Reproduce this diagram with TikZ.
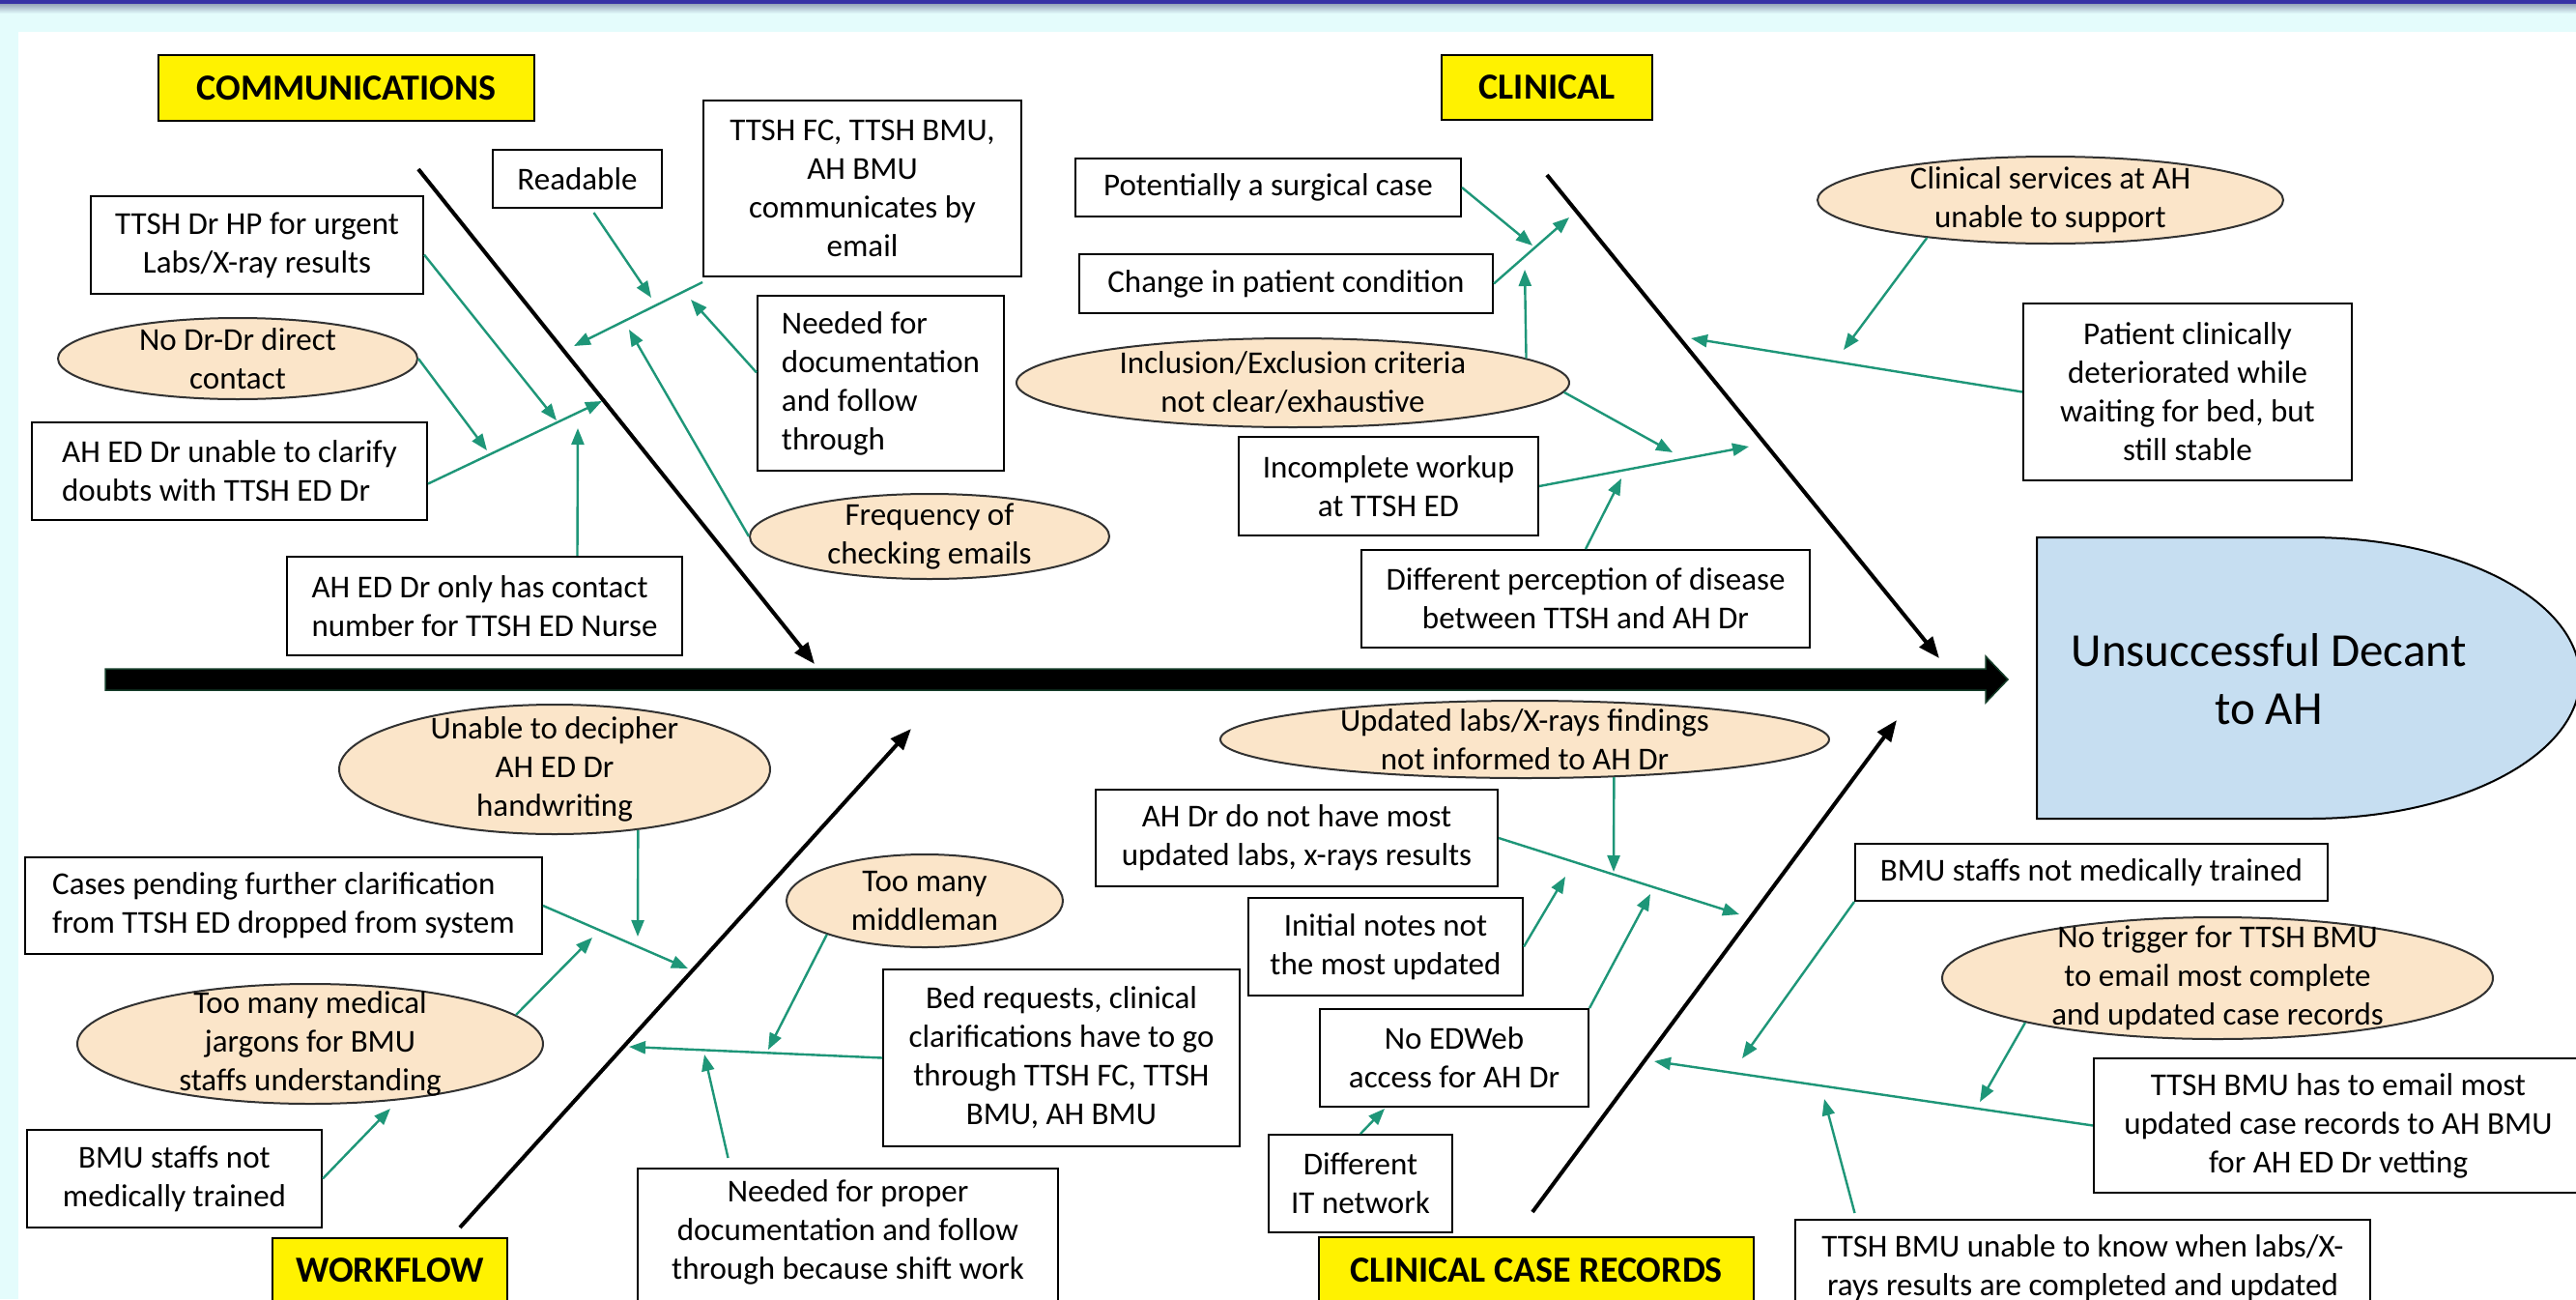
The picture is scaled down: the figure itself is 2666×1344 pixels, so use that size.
\documentclass[tikz,border=0pt]{standalone}
\usepackage{fontspec}
\setmainfont{Carlito}
\usetikzlibrary{arrows.meta,shapes.geometric}
\definecolor{grn}{RGB}{30,150,120}
\definecolor{peach}{RGB}{251,229,201}
\definecolor{ovalline}{RGB}{50,50,50}
\definecolor{outblue}{RGB}{198,222,241}
\definecolor{cyanbg}{RGB}{228,252,252}
\definecolor{topblue}{RGB}{55,50,165}
\definecolor{topgray}{RGB}{150,165,185}
\definecolor{spinegreen}{RGB}{20,60,40}
\newcommand{\myfs}{\fontsize{33pt}{40pt}\selectfont}
\newcommand{\myfb}{\fontsize{38pt}{44pt}\selectfont\bfseries}
\newcommand{\myfo}{\fontsize{49pt}{60pt}\selectfont}
\begin{document}
\begin{tikzpicture}[x=1pt,y=-1pt,
 box/.style={draw=black,line width=2pt,fill=white,inner sep=4pt,font=\myfs,align=center},
 lbox/.style={box,align=left},
 lbl/.style={draw=black,line width=2pt,fill=yellow,inner sep=4pt,font=\myfb},
 oval/.style={ellipse,draw=ovalline,line width=2pt,fill=peach,inner sep=0pt},
 txt/.style={font=\myfs,align=center,inner sep=0pt},
 garrow/.style={draw=grn,line width=2.4pt,-{Triangle[length=17pt,width=13pt]}},
 bone/.style={draw=black,line width=4pt,-{Triangle[length=22pt,width=17pt]}}]
\useasboundingbox (0,0) rectangle (2666,1344);
% background
\fill[cyanbg] (0,0) rectangle (2666,1344);
\fill[white] (19,33) rectangle (2666,1344);
\fill[topblue] (0,0) rectangle (2666,4);
\shade[top color=topgray,bottom color=cyanbg] (0,4) rectangle (2666,14);
% spine
\fill[black,draw=spinegreen,line width=1.5pt] (109,692) -- (2055,692) -- (2055,679) -- (2078,703) -- (2055,727) -- (2055,714) -- (109,714) -- cycle;
% bones
\coordinate (cbA) at (433,175); \coordinate (cbB) at (843,687);
\coordinate (clA) at (1601,181); \coordinate (clB) at (2007,681);
\coordinate (wbA) at (476,1270); \coordinate (wbB) at (943,754);
\coordinate (rbA) at (1586,1254); \coordinate (rbB) at (1963,745);
\draw[bone] (cbA) -- (cbB);
\draw[bone] (clA) -- (clB);
\draw[bone] (wbA) -- (wbB);
\draw[bone] (rbA) -- (rbB);
% outcome
\filldraw[fill=outblue,draw=black,line width=2pt] (2108,556) -- (2390,556) arc[start angle=90,end angle=-90,x radius=280pt,y radius=145.5pt] -- (2108,847) -- cycle;
\node[font=\myfo,align=center,inner sep=0pt] (outtxt) at (2348,703) {Unsuccessful Decant\\to AH};
% ---------- COMMUNICATIONS
\node[lbl,minimum width=389pt,minimum height=68pt] (comm) at (358.5,91) {COMMUNICATIONS};
\node[box,minimum width=175pt,minimum height=60pt] (readable) at (597.5,185) {Readable};
\node[box,minimum width=329pt,minimum height=182pt] (fc) at (892.5,195) {TTSH FC, TTSH BMU,\\AH BMU\\communicates by\\email};
\node[box,minimum width=344pt,minimum height=101pt] (hp) at (266,253.5) {TTSH Dr HP for urgent\\Labs/X-ray results};
\node[oval,minimum width=372pt,minimum height=84pt] (nodr) at (246,371) {};
\node[txt] at (nodr) {No Dr-Dr direct\\contact};
\node[lbox,minimum width=409pt,minimum height=101pt] (clar) at (237.5,487.5) {AH ED Dr unable to clarify\\doubts with TTSH ED Dr};
\node[lbox,minimum width=255pt,minimum height=181pt] (need) at (911.5,396.5) {Needed for\\documentation\\and follow\\through};
\node[oval,minimum width=372pt,minimum height=88pt] (freq) at (962,555) {};
\node[txt] at (freq) {Frequency of\\checking emails};
\node[lbox,minimum width=409pt,minimum height=102pt] (only) at (501.5,627) {AH ED Dr only has contact\\number for TTSH ED Nurse};
% ---------- CLINICAL
\node[lbl,minimum width=218pt,minimum height=67pt] (clin) at (1601,90.5) {CLINICAL};
\node[box,minimum width=399pt,minimum height=60pt] (surg) at (1312.5,194) {Potentially a surgical case};
\node[box,minimum width=428pt,minimum height=61pt] (change) at (1331,293.5) {Change in patient condition};
\node[oval,minimum width=572pt,minimum height=92pt] (incl) at (1338,396) {};
\node[txt] at (incl) {Inclusion/Exclusion criteria\\not clear/exhaustive};
\node[box,minimum width=310pt,minimum height=102pt] (work) at (1437,503) {Incomplete workup\\at TTSH ED};
\node[box,minimum width=464pt,minimum height=101pt] (diff) at (1641,619.5) {Different perception of disease\\between TTSH and AH Dr};
\node[oval,minimum width=482pt,minimum height=90pt] (serv) at (2122,207) {};
\node[txt] at (serv) {Clinical services at AH\\unable to support};
\node[box,minimum width=340pt,minimum height=183pt] (pat) at (2264,405.5) {Patient clinically\\deteriorated while\\waiting for bed, but\\still stable};
% ---------- WORKFLOW
\node[oval,minimum width=446pt,minimum height=134pt] (deci) at (574,796) {};
\node[txt] at (deci) {Unable to decipher\\AH ED Dr\\handwriting};
\node[lbox,minimum width=535pt,minimum height=100pt] (cases) at (293.5,937) {Cases pending further clarification\\from TTSH ED dropped from system};
\node[oval,minimum width=482pt,minimum height=124pt] (jarg) at (321,1080) {};
\node[txt] at (jarg) {Too many medical\\jargons for BMU\\staffs understanding};
\node[box,minimum width=305pt,minimum height=101pt] (bmu) at (180.5,1219.5) {BMU staffs not\\medically trained};
\node[lbl,minimum width=243pt,minimum height=66pt] (wf) at (403.5,1314) {WORKFLOW};
\node[oval,minimum width=286pt,minimum height=96pt] (mid) at (957,932) {};
\node[txt] at (mid) {Too many\\middleman};
\node[box,minimum width=369pt,minimum height=183pt] (bed) at (1098.5,1094.5) {Bed requests, clinical\\clarifications have to go\\through TTSH FC, TTSH\\BMU, AH BMU};
\node[box,anchor=north,minimum width=435pt,minimum height=160pt] (prop) at (877.5,1208) {};
\node[txt] at (877.5,1275) {Needed for proper\\documentation and follow\\through because shift work};
% ---------- CLINICAL CASE RECORDS
\node[oval,minimum width=630pt,minimum height=80pt] (upd) at (1578,765) {};
\node[txt] at (upd) {Updated labs/X-rays findings\\not informed to AH Dr};
\node[box,minimum width=416pt,minimum height=100pt] (ahdr) at (1342,867) {AH Dr do not have most\\updated labs, x-rays results};
\node[box,minimum width=284pt,minimum height=101pt] (init) at (1434,979.5) {Initial notes not\\the most updated};
\node[box,minimum width=278pt,minimum height=101pt] (edweb) at (1505,1094.5) {No EDWeb\\access for AH Dr};
\node[box,minimum width=190pt,minimum height=101pt] (itnet) at (1408,1224.5) {Different\\IT network};
\node[lbl,minimum width=450pt,minimum height=68pt] (ccr) at (1590,1314) {CLINICAL CASE RECORDS};
\node[box,minimum width=489pt,minimum height=59pt] (bmu2) at (2164.5,902.5) {BMU staffs not medically trained};
\node[oval,minimum width=570pt,minimum height=126pt] (trig) at (2295,1012) {};
\node[txt] at (trig) {No trigger for TTSH BMU\\to email most complete\\and updated case records};
\node[box,minimum width=506pt,minimum height=139pt] (email) at (2420,1164.5) {TTSH BMU has to email most\\updated case records to AH BMU\\for AH ED Dr vetting};
\node[box,minimum width=595pt,minimum height=100pt] (unk) at (2155.5,1312) {TTSH BMU unable to know when labs/X-\\rays results are completed and updated};
% ---------- arrow tips
\coordinate (t1) at (576,435); \coordinate (t2) at (504,466); \coordinate (t3) at (623,415); \coordinate (t4) at (598,443);
\coordinate (t5) at (674,308); \coordinate (t6) at (594,358); \coordinate (t7) at (715,310); \coordinate (t8) at (651,341);
\coordinate (t9) at (1586,254); \coordinate (t10) at (1624,225); \coordinate (t11) at (1578,279); \coordinate (t12) at (1731,468);
\coordinate (t13) at (1810,462); \coordinate (t14) at (1678,495); \coordinate (t15) at (1750,350); \coordinate (t16) at (1908,362);
\coordinate (t17) at (660,969); \coordinate (t18) at (712,1002); \coordinate (t19) at (613,970); \coordinate (t20) at (404,1147);
\coordinate (t21) at (651,1083); \coordinate (t22) at (795,1086); \coordinate (t23) at (729,1091);
\coordinate (t24) at (1670,902); \coordinate (t25) at (1800,946); \coordinate (t26) at (1620,907); \coordinate (t27) at (1708,925);
\coordinate (t28) at (1433,1147); \coordinate (t29) at (1712,1098); \coordinate (t30) at (1803,1095); \coordinate (t31) at (2049,1140);
\coordinate (t32) at (1888,1137);
% ---------- green arrows
\draw[garrow] ([yshift=-10pt]hp.east) -- (t1);
\draw[garrow] (nodr.east) -- (t2);
\draw[garrow] ([yshift=-13pt]clar.east) -- (t3);
\draw[garrow] ([xshift=96pt]only.north) -- (t4);
\draw[garrow] ([xshift=17pt,yshift=-4pt]readable.south) -- (t5);
\draw[garrow] ([yshift=-5pt]fc.south west) -- (t6);
\draw[garrow] ([yshift=11pt]need.west) -- (t7);
\draw[garrow] (freq.west) -- (t8);
\draw[garrow] (surg.east) -- (t9);
\draw[garrow] (change.east) -- (t10);
\draw[garrow] (incl.6) -- (t11);
\draw[garrow] (incl.-2) -- (t12);
\draw[garrow] (work.east) -- (t13);
\draw[garrow] (diff.north) -- (t14);
\draw[garrow] (pat.west) -- (t15);
\draw[garrow] (serv.197) -- (t16);
\draw[garrow] (deci.-36) -- (t17);
\draw[garrow] (cases.east) -- (t18);
\draw[garrow] (jarg.8) -- (t19);
\draw[garrow] (bmu.east) -- (t20);
\draw[garrow] (bed.west) -- (t21);
\draw[garrow] (mid.199) -- (t22);
\draw[garrow] ([xshift=-124pt,yshift=10pt]prop.north) -- (t23);
\draw[garrow] (upd.-23) -- (t24);
\draw[garrow] (ahdr.east) -- (t25);
\draw[garrow] (init.east) -- (t26);
\draw[garrow] (edweb.north east) -- (t27);
\draw[garrow] (itnet.north) -- (t28);
\draw[garrow] (email.west) -- (t29);
\draw[garrow] (bmu2.south west) -- (t30);
\draw[garrow] (trig.193) -- (t31);
\draw[garrow] ([xshift=-236pt,yshift=6pt]unk.north) -- (t32);
\end{tikzpicture}
\end{document}
